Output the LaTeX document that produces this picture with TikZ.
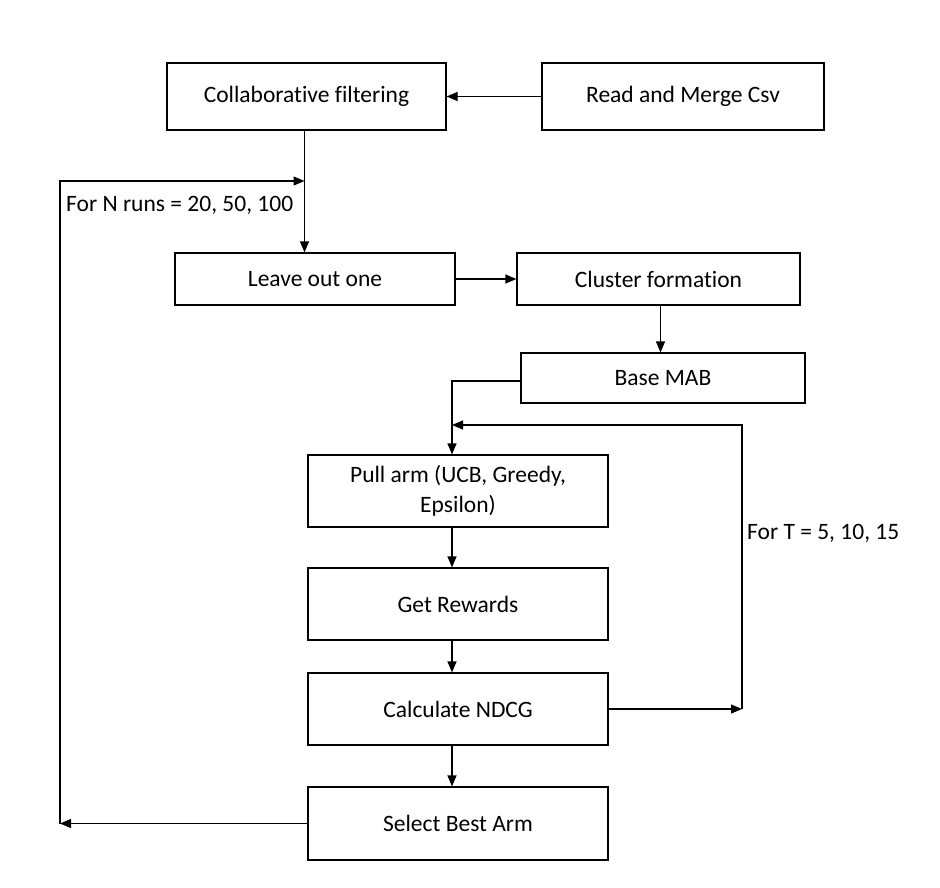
\documentclass[tikz,border=0pt]{standalone}
\usepackage{fontspec}
\setmainfont[Ligatures=NoCommon]{Carlito}
\usetikzlibrary{arrows.meta}
\begin{document}
\begin{tikzpicture}[x=1pt,y=-1pt,
  box/.style={draw, line width=1.2pt, minimum width=#1, inner sep=2pt, align=center, font=\fontsize{23.5}{30}\selectfont},
  box/.default=280pt,
  arr/.style={line width=1.2pt, -{Triangle[length=11pt,width=9pt]}},
  lbl/.style={font=\fontsize{23.5}{28}\selectfont, anchor=west, inner sep=0pt}]
\useasboundingbox (0,0) rectangle (940,888);
\node[box=279pt, minimum height=67pt] (cf) at (306.5,96.5) {Collaborative filtering};
\node[box=282pt, minimum height=67pt] (rmc) at (683,96.5) {Read and Merge Csv};
\node[box=280pt, minimum height=52pt] (loo) at (315,279) {Leave out one};
\node[box=283pt, minimum height=52pt] (clu) at (658.5,279) {Cluster formation};
\node[box=284pt, minimum height=50pt] (mab) at (663,378) {Base MAB};
\node[box=300pt, minimum height=72pt] (pull) at (458,491) {Pull arm (UCB, Greedy,\\Epsilon)};
\node[box=300pt, minimum height=72pt] (get) at (458,604) {Get Rewards};
\node[box=300pt, minimum height=72pt] (ndcg) at (458,709) {Calculate NDCG};
\node[box=300pt, minimum height=73pt] (sba) at (458,823.5) {Select Best Arm};
% connectors
\draw[arr] (rmc.west) -- (cf.east);
\coordinate (cfs) at ([xshift=-2pt]cf.south);
\draw[arr] (cfs) -- (cfs |- loo.north);
\draw[arr] (loo.east) -- (clu.west);
\draw[arr] ([xshift=2pt]clu.south) -- ([xshift=2pt]clu.south |- mab.north);
\coordinate (pn) at ([xshift=-6pt]pull.north);
\draw[arr] ([yshift=-3pt]mab.west) -| (pn);
\draw[arr] ([xshift=-6pt]pull.south) -- ([xshift=-6pt]get.north);
\draw[arr] ([xshift=-6pt]get.south) -- ([xshift=-6pt]ndcg.north);
\draw[arr] ([xshift=-6pt]ndcg.south) -- ([xshift=-6pt]sba.north);
% loop T
\coordinate (tb) at (742,709);
\coordinate (tt) at (742,425);
\draw[arr] (ndcg.east) -- (tb);
\draw[arr] (tb) -- (tt) -- (tt -| pn);
\node[lbl] (tlab) at (747,533) {For T = 5, 10, 15};
% loop N
\coordinate (nb) at (60,823.5);
\coordinate (nt) at (60,181);
\draw[arr] (sba.west) -- (nb);
\draw[arr] (nb) -- (nt) -- (nt -| cfs);
\node[lbl] (nlab) at (66,205) {For N runs = 20, 50, 100};
\end{tikzpicture}
\end{document}
